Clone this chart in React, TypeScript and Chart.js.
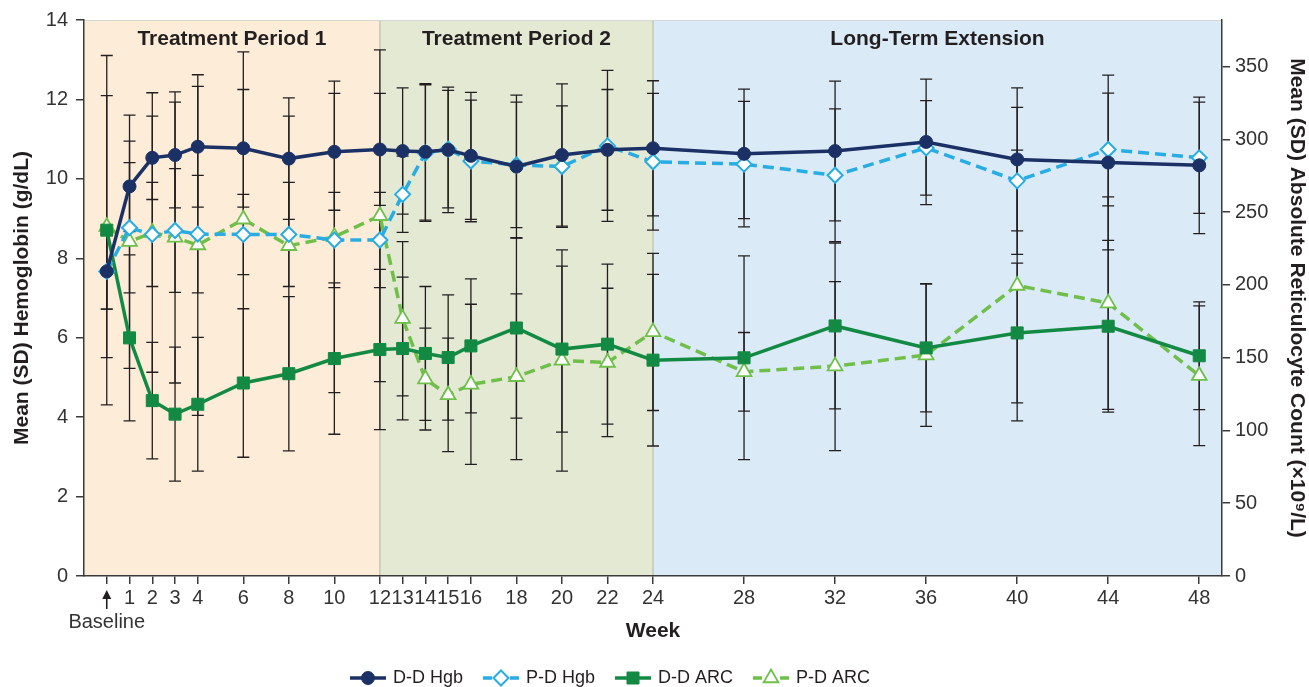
import React, { useEffect, useRef } from 'react';
import { Chart, registerables } from 'chart.js';

Chart.register(...registerables);

// ---------- data ----------
const weeks = [0, 1, 2, 3, 4, 6, 8, 10, 12, 13, 14, 15, 16, 18, 20, 22, 24, 28, 32, 36, 40, 44, 48];

const ddHgb = [7.67, 9.81, 10.53, 10.6, 10.81, 10.77, 10.51, 10.68, 10.74, 10.7, 10.68, 10.73, 10.58, 10.31, 10.6, 10.73, 10.77, 10.63, 10.7, 10.93, 10.49, 10.41, 10.34];
const ddHgbSd = [0.95, 1.14, 1.05, 1.33, 1.52, 1.48, 1.53, 1.47, 1.41, 1.59, 1.72, 1.58, 1.6, 1.8, 1.79, 1.52, 1.7, 1.63, 1.76, 1.58, 1.8, 2.2, 1.72];

const pdHgb = [7.67, 8.77, 8.6, 8.7, 8.61, 8.6, 8.6, 8.46, 8.46, 9.61, 10.65, 10.75, 10.45, 10.35, 10.31, 10.83, 10.43, 10.37, 10.09, 10.78, 9.95, 10.74, 10.53];
const pdHgbSd = [0.95, 1.64, 1.31, 1.56, 1.48, 1.01, 1.31, 1.2, 1.2, 0.96, 1.72, 1.48, 1.53, 1.58, 1.53, 1.9, 1.72, 1.58, 1.67, 1.19, 1.85, 1.42, 1.4];

const ddArc = [237.6, 163.6, 120.5, 111.2, 118.0, 132.6, 139.0, 149.4, 155.6, 156.3, 152.9, 150.1, 158.1, 170.4, 155.9, 159.3, 148.3, 149.9, 171.8, 156.7, 167.0, 171.6, 151.3];
const ddArcSd = [120, 57, 40, 46, 46, 51, 53, 52, 55, 49, 46, 43, 46, 62, 57, 55, 59, 70, 57, 44, 48, 59, 37];

const pdArc = [240.0, 229.7, 236.0, 232.6, 227.4, 245.1, 226.9, 233.0, 247.5, 176.8, 135.3, 124.4, 131.7, 136.9, 148.1, 146.7, 167.7, 140.3, 144.2, 151.8, 199.6, 187.5, 137.6];
const pdArcSd = [90, 87, 96, 100, 117, 115, 89, 107, 114, 53, 35, 39, 55, 57, 76, 51, 54, 27, 58, 49, 93, 73, 48];

const leftTicks = [0, 2, 4, 6, 8, 10, 12, 14];
const rightTicks = [0, 50, 100, 150, 200, 250, 300, 350];

const periodLabels = ['Treatment Period 1', 'Treatment Period 2', 'Long-Term Extension'];
const periodStarts = [-1, 12, 24];
const periodEnds = [12, 24, 49];

const baselineWeek = 0;
const baselineLabel = 'Baseline';

// ---------- styles ----------
const FONT = "'Liberation Sans', Arial, Helvetica, sans-serif";
const NAVY = '#1b3166';
const LBLUE = '#27ace3';
const GREEN = '#138a43';
const LGREEN = '#6fbf4a';
const AXIS = '#3a3a3a';
const TEXT = '#231f20';
const BAND_COLORS = ['#fdecd7', '#e4e9d4', '#dbeaf7'];

const bandsPlugin = {
  id: 'bands',
  beforeDraw(chart: any) {
    const { ctx, chartArea, scales } = chart;
    const { left, right, top, bottom } = chartArea;
    const x = scales.x;
    ctx.save();
    const spans: Array<[number, number]> = [];
    periodLabels.forEach((_, i) => {
      const x0 = Math.max(left, x.getPixelForValue(periodStarts[i]));
      const x1 = Math.min(right, x.getPixelForValue(periodEnds[i]));
      spans.push([x0, x1]);
      ctx.fillStyle = BAND_COLORS[i];
      ctx.fillRect(x0, top, x1 - x0, bottom - top);
    });
    ctx.strokeStyle = '#c9c6b6';
    ctx.lineWidth = 1.5;
    periodStarts.slice(1).forEach((w) => {
      const px = x.getPixelForValue(w);
      ctx.beginPath();
      ctx.moveTo(px, top);
      ctx.lineTo(px, bottom);
      ctx.stroke();
    });
    ctx.strokeStyle = '#d6d6d6';
    ctx.lineWidth = 1;
    ctx.beginPath();
    ctx.moveTo(left, top + 0.5);
    ctx.lineTo(right, top + 0.5);
    ctx.stroke();
    ctx.fillStyle = TEXT;
    ctx.font = `bold 21px ${FONT}`;
    ctx.textAlign = 'center';
    ctx.textBaseline = 'middle';
    periodLabels.forEach((lbl, i) => {
      const [x0, x1] = spans[i];
      ctx.fillText(lbl, (x0 + x1) / 2, top + 19);
    });
    ctx.restore();
  },
  afterDraw(chart: any) {
    // upward arrow marking the baseline tick
    const { ctx, chartArea, scales } = chart;
    const px = scales.x.getPixelForValue(baselineWeek);
    const y0 = chartArea.bottom + 14;
    ctx.save();
    ctx.strokeStyle = TEXT;
    ctx.fillStyle = TEXT;
    ctx.lineWidth = 1.6;
    ctx.beginPath();
    ctx.moveTo(px, y0 + 7);
    ctx.lineTo(px, y0 + 19);
    ctx.stroke();
    ctx.beginPath();
    ctx.moveTo(px, y0);
    ctx.lineTo(px - 4.5, y0 + 9);
    ctx.lineTo(px + 4.5, y0 + 9);
    ctx.closePath();
    ctx.fill();
    ctx.restore();
  },
};

const errorBarPlugin = {
  id: 'errorBars',
  beforeDatasetsDraw(chart: any) {
    const { ctx, chartArea } = chart;
    ctx.save();
    ctx.beginPath();
    ctx.rect(chartArea.left, chartArea.top, chartArea.right - chartArea.left, chartArea.bottom - chartArea.top);
    ctx.clip();
    ctx.strokeStyle = TEXT;
    ctx.lineWidth = 1.3;
    chart.data.datasets.forEach((ds: any, i: number) => {
      const sd = ds.sd;
      if (!sd) return;
      const yScale = chart.scales[ds.yAxisID];
      const meta = chart.getDatasetMeta(i);
      meta.data.forEach((pt: any, j: number) => {
        const v = ds.data[j].y;
        const yTop = yScale.getPixelForValue(v + sd[j]);
        const yBot = yScale.getPixelForValue(v - sd[j]);
        const px = pt.x;
        ctx.beginPath();
        ctx.moveTo(px, yTop);
        ctx.lineTo(px, yBot);
        ctx.moveTo(px - 6, yTop);
        ctx.lineTo(px + 6, yTop);
        ctx.moveTo(px - 6, yBot);
        ctx.lineTo(px + 6, yBot);
        ctx.stroke();
      });
    });
    ctx.restore();
  },
};

function drawMarker(ctx: CanvasRenderingContext2D, style: string, x: number, y: number, r: number, fill: string, stroke: string, lw: number) {
  ctx.save();
  ctx.beginPath();
  if (style === 'circle') {
    ctx.arc(x, y, r, 0, Math.PI * 2);
  } else if (style === 'rectRot') {
    ctx.moveTo(x - r, y);
    ctx.lineTo(x, y - r);
    ctx.lineTo(x + r, y);
    ctx.lineTo(x, y + r);
    ctx.closePath();
  } else if (style === 'rect') {
    const s = r * Math.SQRT1_2;
    ctx.rect(x - s, y - s, 2 * s, 2 * s);
  } else if (style === 'triangle') {
    const a = (2 * Math.PI) / 3;
    ctx.moveTo(x, y - r);
    ctx.lineTo(x + Math.sin(a) * r, y - Math.cos(a) * r);
    ctx.lineTo(x + Math.sin(2 * a) * r, y - Math.cos(2 * a) * r);
    ctx.closePath();
  }
  ctx.fillStyle = fill;
  ctx.fill();
  ctx.lineWidth = lw;
  ctx.strokeStyle = stroke;
  ctx.setLineDash([]);
  ctx.stroke();
  ctx.restore();
}

const legendPlugin = {
  id: 'customLegend',
  afterDraw(chart: any) {
    const { ctx } = chart;
    ctx.save();
    ctx.font = `18px ${FONT}`;
    const dsets = chart.data.datasets;
    const symW = 36;
    const gapT = 7;
    const gapI = 20;
    const widths = dsets.map((ds: any) => ctx.measureText(ds.label).width);
    const total = widths.reduce((s: number, w: number) => s + symW + gapT + w, 0) + gapI * (dsets.length - 1);
    let x = 610 - total / 2;
    const y = 678;
    dsets.forEach((ds: any, i: number) => {
      ctx.strokeStyle = ds.borderColor;
      ctx.lineWidth = 3.5;
      ctx.beginPath();
      if (ds.borderDash && ds.borderDash.length) {
        ctx.moveTo(x, y);
        ctx.lineTo(x + 9, y);
        ctx.moveTo(x + symW - 9, y);
        ctx.lineTo(x + symW, y);
      } else {
        ctx.moveTo(x, y);
        ctx.lineTo(x + symW, y);
      }
      ctx.stroke();
      drawMarker(ctx, ds.pointStyle, x + symW / 2, y, ds.pointRadius, ds.pointBackgroundColor, ds.pointBorderColor, ds.pointBorderWidth);
      ctx.fillStyle = TEXT;
      ctx.textAlign = 'left';
      ctx.textBaseline = 'middle';
      ctx.fillText(ds.label, x + symW + gapT, y);
      x += symW + gapT + widths[i] + gapI;
    });
    ctx.restore();
  },
};

const toPoints = (vals: number[]) => weeks.map((w, i) => ({ x: w, y: vals[i] }));

export default function App() {
  const canvasRef = useRef<HTMLCanvasElement | null>(null);

  useEffect(() => {
    document.body.style.margin = '0';
    Chart.defaults.font.family = FONT;
    const canvas = canvasRef.current;
    if (!canvas) return;
    const chart = new Chart(canvas, {
      type: 'line',
      data: {
        datasets: [
          {
            label: 'D-D Hgb',
            data: toPoints(ddHgb),
            sd: ddHgbSd,
            yAxisID: 'y',
            borderColor: NAVY,
            backgroundColor: NAVY,
            borderWidth: 3.5,
            pointStyle: 'circle',
            pointRadius: 6.5,
            pointHoverRadius: 6.5,
            pointBackgroundColor: NAVY,
            pointBorderColor: NAVY,
            pointBorderWidth: 1,
            tension: 0,
          },
          {
            label: 'P-D Hgb',
            data: toPoints(pdHgb),
            sd: pdHgbSd,
            yAxisID: 'y',
            borderColor: LBLUE,
            backgroundColor: '#ffffff',
            borderWidth: 3.5,
            borderDash: [11, 6],
            pointStyle: 'rectRot',
            pointRadius: 7.5,
            pointHoverRadius: 7.5,
            pointBackgroundColor: '#ffffff',
            pointBorderColor: LBLUE,
            pointBorderWidth: 2,
            tension: 0,
          },
          {
            label: 'D-D ARC',
            data: toPoints(ddArc),
            sd: ddArcSd,
            yAxisID: 'y2',
            borderColor: GREEN,
            backgroundColor: GREEN,
            borderWidth: 3.5,
            pointStyle: 'rect',
            pointRadius: 8.5,
            pointHoverRadius: 8.5,
            pointBackgroundColor: GREEN,
            pointBorderColor: GREEN,
            pointBorderWidth: 1,
            tension: 0,
          },
          {
            label: 'P-D ARC',
            data: toPoints(pdArc),
            sd: pdArcSd,
            yAxisID: 'y2',
            borderColor: LGREEN,
            backgroundColor: '#ffffff',
            borderWidth: 3.5,
            borderDash: [11, 6],
            pointStyle: 'triangle',
            pointRadius: 8.5,
            pointHoverRadius: 8.5,
            pointBackgroundColor: '#ffffff',
            pointBorderColor: LGREEN,
            pointBorderWidth: 1.8,
            tension: 0,
          },
        ] as any,
      },
      options: {
        animation: false,
        responsive: true,
        maintainAspectRatio: false,
        devicePixelRatio: 1,
        events: [],
        layout: { padding: { top: 17, left: 0, right: 0, bottom: 0 } },
        plugins: {
          legend: { display: false },
          tooltip: { enabled: false },
          title: { display: false },
        },
        scales: {
          x: {
            type: 'linear',
            min: -1,
            max: 49,
            afterBuildTicks: (s: any) => {
              s.ticks = weeks.map((v) => ({ value: v }));
            },
            afterFit: (s: any) => {
              s.height = 111;
            },
            ticks: {
              autoSkip: false,
              maxRotation: 0,
              minRotation: 0,
              padding: 2,
              color: '#333333',
              font: { size: 20 },
              callback: (v: any) => (v === baselineWeek ? ['', baselineLabel] : String(v)),
            },
            grid: { drawOnChartArea: false, drawTicks: true, tickLength: 8, color: AXIS, lineWidth: 1.5 },
            border: { display: true, color: AXIS, width: 1.5 },
            title: {
              display: true,
              text: 'Week',
              color: TEXT,
              font: { size: 21, weight: 'bold' },
              padding: { top: 0, bottom: 43 },
            },
          },
          y: {
            type: 'linear',
            position: 'left',
            min: 0,
            max: 14,
            afterBuildTicks: (s: any) => {
              s.ticks = leftTicks.map((v) => ({ value: v }));
            },
            afterFit: (s: any) => {
              s.width = 84;
            },
            ticks: { padding: 8, color: '#333333', font: { size: 20 } },
            grid: { drawOnChartArea: false, drawTicks: true, tickLength: 8, color: AXIS, lineWidth: 1.5 },
            border: { display: true, color: AXIS, width: 1.5 },
            title: {
              display: true,
              text: 'Mean (SD) Hemoglobin (g/dL)',
              color: TEXT,
              font: { size: 21, weight: 'bold' },
              padding: { top: 10, bottom: 0 },
            },
          },
          y2: {
            type: 'linear',
            position: 'right',
            min: 0,
            max: 382,
            afterBuildTicks: (s: any) => {
              s.ticks = rightTicks.map((v) => ({ value: v }));
            },
            afterFit: (s: any) => {
              s.width = 87;
            },
            ticks: { padding: 5, color: '#333333', font: { size: 20 } },
            grid: { drawOnChartArea: false, drawTicks: true, tickLength: 8, color: AXIS, lineWidth: 1.5 },
            border: { display: true, color: AXIS, width: 1.5 },
            title: {
              display: true,
              text: 'Mean (SD) Absolute Reticulocyte Count (×10⁹/L)',
              color: TEXT,
              font: { size: 21, weight: 'bold' },
              padding: { top: 0, bottom: 0 },
            },
          },
        },
      } as any,
      plugins: [bandsPlugin, errorBarPlugin, legendPlugin],
    });
    return () => {
      chart.destroy();
    };
  }, []);

  return (
    <div style={{ position: 'fixed', left: 0, top: 0, width: '1309px', height: '687px', background: '#ffffff' }}>
      <canvas ref={canvasRef} />
    </div>
  );
}
